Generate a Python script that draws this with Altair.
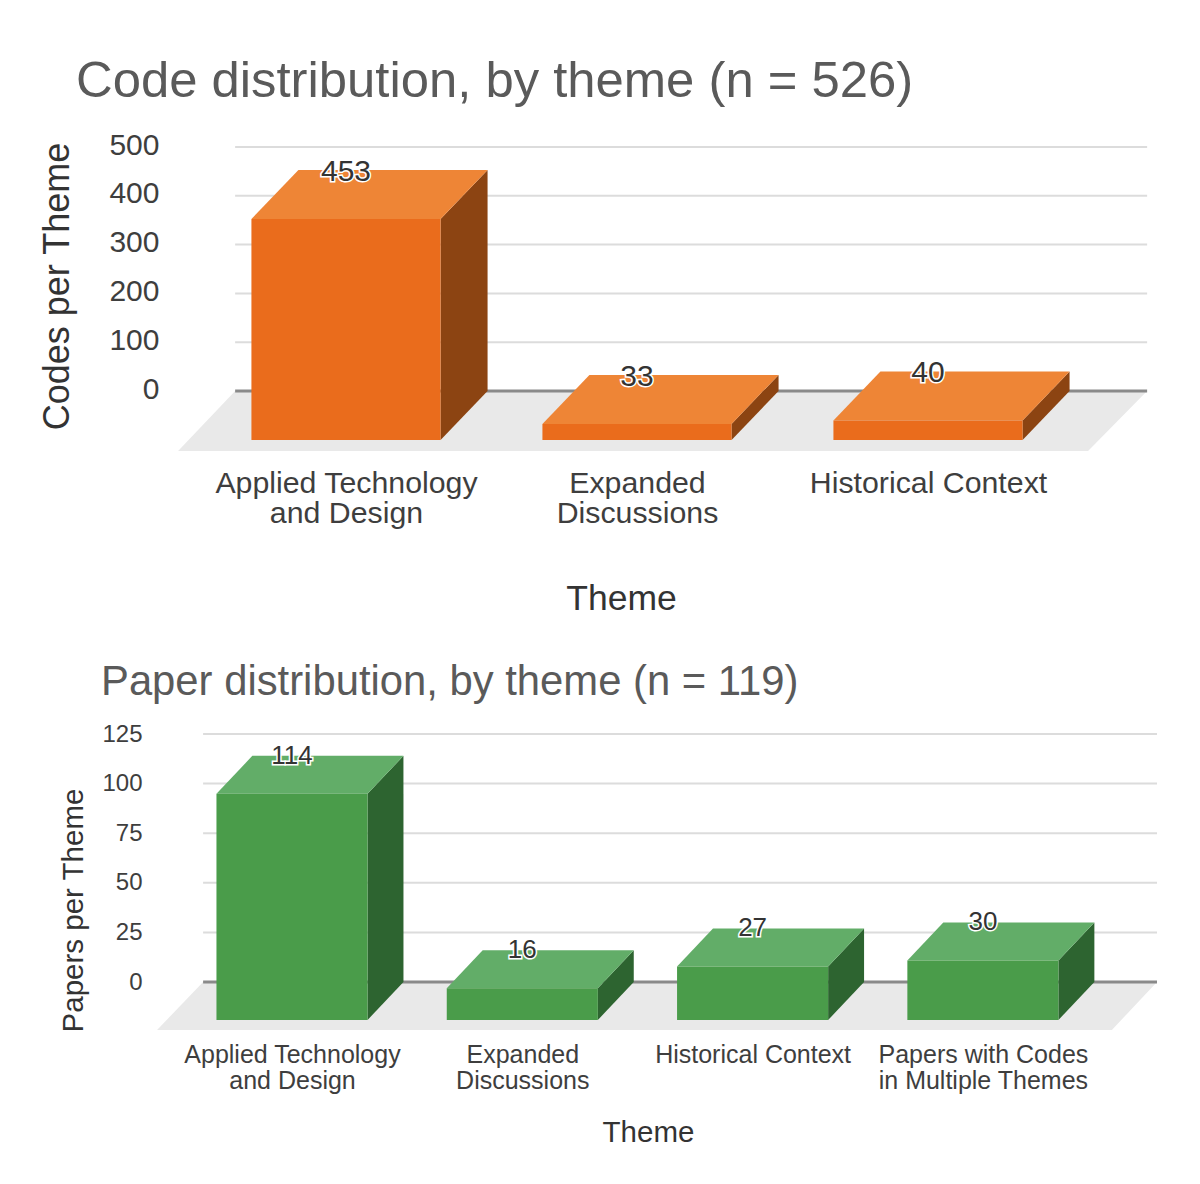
import altair as alt
import pandas as pd

FONT = "Liberation Sans"

codes_labels = [["Applied Technology", "and Design"], ["Expanded", "Discussions"], ["Historical Context"]]
codes_values = [453, 33, 40]
codes_ticks = [0, 100, 200, 300, 400, 500]

papers_labels = [["Applied Technology", "and Design"], ["Expanded", "Discussions"], ["Historical Context"],
                 ["Papers with Codes", "in Multiple Themes"]]
papers_values = [114, 16, 27, 30]
papers_ticks = [0, 25, 50, 75, 100, 125]

orange = dict(front="#EA6C1C", top="#EE8536", side="#8C4412")
green = dict(front="#4A9C4A", top="#62AD68", side="#2D6430")


def panel(title, ytitle, labels, values, ticks, colors, xdom, ydom, w, h, half, dx, dy,
          floor_back, floor_front, title_size, title_dx, title_off, tick_size, label_size,
          val_size, ytitle_size, xtitle_size, axis_off, ytitle_x, ytitle_y, xtitle_x,
          label_pad, xtitle_pad, line_h, tick_shift, val_dy):
    xs = alt.Scale(domain=xdom, nice=False, zero=False)
    ys = alt.Scale(domain=ydom, nice=False, zero=False)
    expr = "[" + ",".join(
        "[" + ",".join("'%s'" % s for s in lab) + "]" for lab in labels) + "][datum.value]"
    X = alt.X("x:Q", scale=xs, title="Theme", axis=alt.Axis(
        values=list(range(len(values))), labelExpr=expr, labelFont=FONT, labelFontSize=label_size,
        labelColor="#3E3E3E", domain=False, ticks=False, grid=False, labelPadding=label_pad,
        labelAngle=0, labelLineHeight=line_h, labelOverlap=False, labelBaseline="top", labelLimit=600,
        titleFont=FONT, titleFontSize=xtitle_size, titleFontWeight="normal", titleColor="#333333",
        titlePadding=xtitle_pad, titleX=xtitle_x))
    Y = alt.Y("y:Q", scale=ys, title=ytitle, axis=alt.Axis(
        values=ticks, offset=axis_off, labelFont=FONT, labelFontSize=tick_size, labelColor="#3E3E3E",
        domain=False, ticks=False, grid=False, labelPadding=0, labelOffset=tick_shift,
        titleFont=FONT, titleFontSize=ytitle_size, titleFontWeight="normal", titleColor="#333333",
        titleX=ytitle_x, titleY=ytitle_y))

    # floor: its front edge lies on the lower end of the value scale
    fl, fr = floor_front
    bl, br = floor_back
    fy = ydom[0]
    floor = pd.DataFrame({"x": [fl, bl, fr, br], "y": [fy, fy, fy, 0], "y2": [fy, 0, 0, 0]})
    floor_layer = alt.Chart(floor).mark_area(color="#E9E9E9", opacity=1).encode(X, Y, y2="y2:Q")

    # gridlines
    grid = pd.DataFrame({"x": [bl] * len(ticks), "x2": [br] * len(ticks), "y": ticks})
    grid_layer = alt.Chart(grid[grid.y > 0]).mark_rule(color="#DCDCDC", strokeWidth=2).encode(X, Y, x2="x2:Q")
    base_layer = alt.Chart(grid[grid.y == 0]).mark_rule(color="#8A8A8A", strokeWidth=3).encode(X, Y, x2="x2:Q")

    layers = [grid_layer, floor_layer, base_layer]
    for i, v in enumerate(values):
        l, r = i - half, i + half
        front = pd.DataFrame({"x": [l, r], "y": [v + dy, v + dy], "y2": [dy, dy]})
        top = pd.DataFrame({"x": [l, l + dx, r, r + dx],
                            "y": [v + dy, v, v, v], "y2": [v + dy, v + dy, v + dy, v]})
        side = pd.DataFrame({"x": [r, r + dx], "y": [v + dy, v], "y2": [dy, 0]})
        layers.append(alt.Chart(side).mark_area(color=colors["side"], opacity=1).encode(X, Y, y2="y2:Q"))
        layers.append(alt.Chart(top).mark_area(color=colors["top"], opacity=1).encode(X, Y, y2="y2:Q"))
        layers.append(alt.Chart(front).mark_area(color=colors["front"], opacity=1).encode(X, Y, y2="y2:Q"))

    vals = pd.DataFrame({"x": list(range(len(values))), "y": values, "t": [str(v) for v in values]})
    for kw in (dict(stroke="white", strokeWidth=3, fill="white"), dict(fill="#333333")):
        layers.append(alt.Chart(vals).mark_text(font=FONT, fontSize=val_size, baseline="middle", dy=val_dy, **kw)
                      .encode(X, Y, text="t:N"))

    return alt.layer(*layers).properties(
        width=w, height=h,
        title=alt.TitleParams(title, font=FONT, fontSize=title_size, fontWeight="normal", color="#5A5A5A",
                              anchor="start", frame="group", dx=title_dx, offset=title_off),
    )


L, R = 20, 1170
top = panel("Code distribution, by theme (n = 526)", "Codes per Theme", codes_labels, codes_values, codes_ticks,
            orange,
            xdom=[(L - 346) / 291, (R - 346) / 291], ydom=[(390 - 450) / 0.488, (390 - 130) / 0.488],
            w=R - L, h=320, half=0.325, dx=0.1615, dy=-100.4,
            floor_back=(-0.381, 2.753), floor_front=(-0.577, 2.55),
            title_size=50.8, title_dx=56, title_off=22, tick_size=30, label_size=30.3, val_size=30,
            ytitle_size=36, xtitle_size=35.5, axis_off=-139, ytitle_x=-83, ytitle_y=155,
            xtitle_x=601, label_pad=17, xtitle_pad=53, line_h=30.5, tick_shift=-2, val_dy=2)
bottom = panel("Paper distribution, by theme (n = 119)", "Papers per Theme", papers_labels, papers_values,
               papers_ticks, green,
               xdom=[(L - 292) / 230.3, (R - 292) / 230.3], ydom=[(981 - 1029) / 1.984, (981 - 720) / 1.984],
               w=R - L, h=309, half=0.328, dx=0.156, dy=-19.15,
               floor_back=(-0.386, 3.756), floor_front=(-0.586, 3.56),
               title_size=41.8, title_dx=81, title_off=17, tick_size=24, label_size=25, val_size=26,
               ytitle_size=29.5, xtitle_size=29.5, axis_off=-122, ytitle_x=-54, ytitle_y=189,
               xtitle_x=628, label_pad=12, xtitle_pad=25, line_h=26, tick_shift=0, val_dy=0)

chart = alt.vconcat(top, bottom, spacing=44).properties(padding={"top": 48, "left": 12, "right": 0, "bottom": 0}).configure_view(stroke=None)
chart.save("out.html", embed_options={"renderer": "svg", "actions": False})
